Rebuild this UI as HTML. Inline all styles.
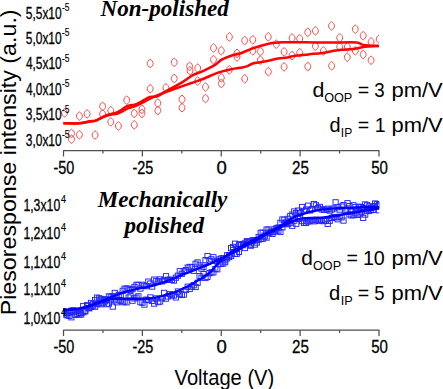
<!DOCTYPE html>
<html><head><meta charset="utf-8"><style>
html,body{margin:0;padding:0;background:#fff;}
body{width:443px;height:389px;overflow:hidden;}
svg{display:block;}
text{font-family:"Liberation Sans",sans-serif;fill:#000;}
.t{font-family:"Liberation Serif",serif;font-weight:bold;font-style:italic;}
</style></head><body>
<svg width="443" height="389" viewBox="0 0 443 389">
<text transform="translate(16.2,0) rotate(-90)" x="-315.36" y="0" font-size="22.5" textLength="305.94" lengthAdjust="spacingAndGlyphs">Piesoresponse intensity (a.u.)</text>
<text x="174.60" y="385.10" font-size="21.4" textLength="99.66" lengthAdjust="spacingAndGlyphs">Voltage (V)</text>
<path d="M63.50,156.5 V150.5 H379.00 V156.5" stroke-linejoin="round" fill="none" stroke="#505050" stroke-width="1.25"/>
<line x1="102.94" y1="150.5" x2="102.94" y2="153.5" stroke="#505050" stroke-width="1.25"/>
<line x1="142.38" y1="150.5" x2="142.38" y2="156.5" stroke="#505050" stroke-width="1.25"/>
<line x1="181.81" y1="150.5" x2="181.81" y2="153.5" stroke="#505050" stroke-width="1.25"/>
<line x1="221.25" y1="150.5" x2="221.25" y2="156.5" stroke="#505050" stroke-width="1.25"/>
<line x1="260.69" y1="150.5" x2="260.69" y2="153.5" stroke="#505050" stroke-width="1.25"/>
<line x1="300.12" y1="150.5" x2="300.12" y2="156.5" stroke="#505050" stroke-width="1.25"/>
<line x1="339.56" y1="150.5" x2="339.56" y2="153.5" stroke="#505050" stroke-width="1.25"/>
<text x="53.55" y="173.50" font-size="18" textLength="20.83" lengthAdjust="spacingAndGlyphs" stroke="#000" stroke-width="0.3">-50</text>
<text x="132.43" y="173.50" font-size="18" textLength="20.83" lengthAdjust="spacingAndGlyphs" stroke="#000" stroke-width="0.3">-25</text>
<text x="216.61" y="173.50" font-size="18" textLength="10.30" lengthAdjust="spacingAndGlyphs" stroke="#000" stroke-width="0.3">0</text>
<text x="292.12" y="173.50" font-size="18" textLength="16.90" lengthAdjust="spacingAndGlyphs" stroke="#000" stroke-width="0.3">25</text>
<text x="371.15" y="173.50" font-size="18" textLength="16.74" lengthAdjust="spacingAndGlyphs" stroke="#000" stroke-width="0.3">50</text>
<path d="M63.50,336.0 V330.0 H379.00 V336.0" stroke-linejoin="round" fill="none" stroke="#505050" stroke-width="1.25"/>
<line x1="102.94" y1="330.0" x2="102.94" y2="333.0" stroke="#505050" stroke-width="1.25"/>
<line x1="142.38" y1="330.0" x2="142.38" y2="336.0" stroke="#505050" stroke-width="1.25"/>
<line x1="181.81" y1="330.0" x2="181.81" y2="333.0" stroke="#505050" stroke-width="1.25"/>
<line x1="221.25" y1="330.0" x2="221.25" y2="336.0" stroke="#505050" stroke-width="1.25"/>
<line x1="260.69" y1="330.0" x2="260.69" y2="333.0" stroke="#505050" stroke-width="1.25"/>
<line x1="300.12" y1="330.0" x2="300.12" y2="336.0" stroke="#505050" stroke-width="1.25"/>
<line x1="339.56" y1="330.0" x2="339.56" y2="333.0" stroke="#505050" stroke-width="1.25"/>
<text x="53.55" y="353.00" font-size="18" textLength="20.83" lengthAdjust="spacingAndGlyphs" stroke="#000" stroke-width="0.3">-50</text>
<text x="132.43" y="353.00" font-size="18" textLength="20.83" lengthAdjust="spacingAndGlyphs" stroke="#000" stroke-width="0.3">-25</text>
<text x="216.61" y="353.00" font-size="18" textLength="10.30" lengthAdjust="spacingAndGlyphs" stroke="#000" stroke-width="0.3">0</text>
<text x="292.12" y="353.00" font-size="18" textLength="16.90" lengthAdjust="spacingAndGlyphs" stroke="#000" stroke-width="0.3">25</text>
<text x="371.15" y="353.00" font-size="18" textLength="16.74" lengthAdjust="spacingAndGlyphs" stroke="#000" stroke-width="0.3">50</text>
<text class="t" x="100.5" y="16.3" font-size="23.1">Non-polished</text>
<text class="t" x="97.8" y="206.6" font-size="23.1">Mechanically</text>
<text class="t" x="124.5" y="233.2" font-size="23.1">polished</text>
<text x="312.55" y="96.90" font-size="20.6" textLength="11.87" lengthAdjust="spacingAndGlyphs">d</text>
<text x="324.13" y="101.70" font-size="13.3" textLength="28.14" lengthAdjust="spacingAndGlyphs">OOP</text>
<text x="357.82" y="96.90" font-size="20.6" textLength="11.44" lengthAdjust="spacingAndGlyphs">=</text>
<text x="374.35" y="96.90" font-size="20.6" textLength="10.41" lengthAdjust="spacingAndGlyphs">3</text>
<text x="391.47" y="96.90" font-size="20.6" textLength="51.23" lengthAdjust="spacingAndGlyphs">pm/V</text>
<text x="329.40" y="132.10" font-size="20.6" textLength="11.12" lengthAdjust="spacingAndGlyphs">d</text>
<text x="340.82" y="136.90" font-size="13.3" textLength="11.39" lengthAdjust="spacingAndGlyphs">IP</text>
<text x="357.82" y="132.10" font-size="20.6" textLength="11.44" lengthAdjust="spacingAndGlyphs">=</text>
<text x="374.73" y="132.10" font-size="20.6" textLength="10.86" lengthAdjust="spacingAndGlyphs">1</text>
<text x="391.47" y="132.10" font-size="20.6" textLength="51.23" lengthAdjust="spacingAndGlyphs">pm/V</text>
<text x="301.26" y="264.90" font-size="20.6" textLength="11.62" lengthAdjust="spacingAndGlyphs">d</text>
<text x="313.03" y="269.70" font-size="13.3" textLength="28.03" lengthAdjust="spacingAndGlyphs">OOP</text>
<text x="346.42" y="264.90" font-size="20.6" textLength="11.44" lengthAdjust="spacingAndGlyphs">=</text>
<text x="362.92" y="264.90" font-size="20.6" textLength="21.91" lengthAdjust="spacingAndGlyphs">10</text>
<text x="391.47" y="264.90" font-size="20.6" textLength="51.23" lengthAdjust="spacingAndGlyphs">pm/V</text>
<text x="329.09" y="299.90" font-size="20.6" textLength="11.25" lengthAdjust="spacingAndGlyphs">d</text>
<text x="340.76" y="304.70" font-size="13.3" textLength="11.97" lengthAdjust="spacingAndGlyphs">IP</text>
<text x="357.82" y="299.90" font-size="20.6" textLength="11.44" lengthAdjust="spacingAndGlyphs">=</text>
<text x="374.36" y="299.90" font-size="20.6" textLength="10.30" lengthAdjust="spacingAndGlyphs">5</text>
<text x="391.47" y="299.90" font-size="20.6" textLength="51.23" lengthAdjust="spacingAndGlyphs">pm/V</text>
<defs><clipPath id="c1"><rect x="55" y="0" width="324.0" height="150"/></clipPath><clipPath id="c2"><rect x="63" y="180" width="316.3" height="150"/></clipPath></defs>
<defs><path id="ci" d="M0,-4.2 C1.6,-3.4 2.95,-1.6 2.95,0 C2.95,1.6 1.6,3.4 0,4.2 C-1.6,3.4 -2.95,1.6 -2.95,0 C-2.95,-1.6 -1.6,-3.4 0,-4.2Z"/></defs>
<g clip-path="url(#c1)" fill="none" stroke="#ff3c3c" stroke-width="0.95">
<use href="#ci" x="64.6" y="112.9"/>
<use href="#ci" x="71.5" y="133.4"/>
<use href="#ci" x="71.5" y="139.2"/>
<use href="#ci" x="79.4" y="116.1"/>
<use href="#ci" x="79.4" y="134.7"/>
<use href="#ci" x="87.1" y="113.9"/>
<use href="#ci" x="95.1" y="135"/>
<use href="#ci" x="102.6" y="106.4"/>
<use href="#ci" x="102.6" y="114.1"/>
<use href="#ci" x="110.8" y="110.7"/>
<use href="#ci" x="110.8" y="121.9"/>
<use href="#ci" x="118.4" y="126"/>
<use href="#ci" x="126.7" y="100.2"/>
<use href="#ci" x="134.3" y="113.4"/>
<use href="#ci" x="134.3" y="124.8"/>
<use href="#ci" x="141.9" y="109.3"/>
<use href="#ci" x="141.9" y="113.4"/>
<use href="#ci" x="150.2" y="63.5"/>
<use href="#ci" x="150.2" y="88.8"/>
<use href="#ci" x="157.8" y="103.1"/>
<use href="#ci" x="157.8" y="110.5"/>
<use href="#ci" x="165.9" y="87.8"/>
<use href="#ci" x="174.2" y="62.3"/>
<use href="#ci" x="174.2" y="78.5"/>
<use href="#ci" x="182" y="99.4"/>
<use href="#ci" x="182" y="107.7"/>
<use href="#ci" x="189.6" y="66.3"/>
<use href="#ci" x="190" y="70.8"/>
<use href="#ci" x="197.7" y="68.1"/>
<use href="#ci" x="197.7" y="81.1"/>
<use href="#ci" x="205.5" y="87"/>
<use href="#ci" x="205.5" y="98.5"/>
<use href="#ci" x="213.5" y="48"/>
<use href="#ci" x="213.5" y="59.7"/>
<use href="#ci" x="221.3" y="50.7"/>
<use href="#ci" x="221.3" y="77.8"/>
<use href="#ci" x="221.3" y="83.5"/>
<use href="#ci" x="229.4" y="36.9"/>
<use href="#ci" x="229.3" y="69.8"/>
<use href="#ci" x="237" y="53.4"/>
<use href="#ci" x="237" y="57"/>
<use href="#ci" x="244.7" y="40.5"/>
<use href="#ci" x="244.7" y="78.8"/>
<use href="#ci" x="252.8" y="39.8"/>
<use href="#ci" x="252.8" y="50.8"/>
<use href="#ci" x="260.4" y="51.5"/>
<use href="#ci" x="260.4" y="60.2"/>
<use href="#ci" x="268.3" y="36.8"/>
<use href="#ci" x="268.4" y="71.7"/>
<use href="#ci" x="276.3" y="44.1"/>
<use href="#ci" x="284.1" y="51.9"/>
<use href="#ci" x="284.1" y="66.9"/>
<use href="#ci" x="292.1" y="38"/>
<use href="#ci" x="292.1" y="55.6"/>
<use href="#ci" x="299.7" y="38.8"/>
<use href="#ci" x="299.7" y="52.8"/>
<use href="#ci" x="307.8" y="32.3"/>
<use href="#ci" x="307.8" y="66.6"/>
<use href="#ci" x="315.4" y="30.8"/>
<use href="#ci" x="315.4" y="46.2"/>
<use href="#ci" x="323.4" y="51"/>
<use href="#ci" x="331.5" y="25.9"/>
<use href="#ci" x="331.6" y="65.8"/>
<use href="#ci" x="339.7" y="37.8"/>
<use href="#ci" x="339.7" y="46.8"/>
<use href="#ci" x="347.3" y="47"/>
<use href="#ci" x="347.3" y="57.2"/>
<use href="#ci" x="355.3" y="29.2"/>
<use href="#ci" x="355.3" y="50.8"/>
<use href="#ci" x="363.2" y="35.7"/>
<use href="#ci" x="363.2" y="54.5"/>
<use href="#ci" x="371.1" y="41.9"/>
<use href="#ci" x="371.1" y="60.2"/>
<use href="#ci" x="379.2" y="39.1"/>
</g>
<path d="M63.4,123.2 C66.1,123.2 75.0,123.6 79.4,123.3 C83.8,123.0 87.3,121.8 90.0,121.3 C92.7,120.8 93.2,121.4 95.4,120.6 C97.7,119.8 101.1,117.7 103.5,116.6 C105.9,115.5 107.8,114.9 110.0,114.2 C112.2,113.5 115.0,113.1 117.0,112.3 C119.0,111.5 120.4,110.5 122.0,109.5 C123.6,108.5 125.2,107.0 126.6,106.3 C128.0,105.6 129.2,105.6 130.6,105.3 C131.9,105.0 133.1,105.2 134.7,104.7 C136.3,104.2 137.4,103.7 140.0,102.4 C142.6,101.1 147.1,98.0 150.0,97.0 C152.9,96.0 154.2,97.4 157.2,96.3 C160.2,95.2 163.8,92.6 168.0,90.2 C172.2,87.8 178.3,84.6 182.5,82.1 C186.7,79.5 190.0,76.7 193.3,74.9 C196.6,73.1 198.8,73.0 202.4,71.3 C206.0,69.6 211.8,66.8 215.0,64.9 C218.2,63.0 218.8,61.3 221.7,59.7 C224.6,58.1 229.4,56.2 232.5,55.2 C235.6,54.2 236.5,54.7 240.0,53.5 C243.5,52.3 248.5,49.8 253.5,48.1 C258.5,46.4 264.6,44.4 269.8,43.4 C275.0,42.4 279.7,42.4 284.7,42.2 C289.7,42.0 294.9,42.3 300.0,42.3 C305.1,42.3 309.5,42.4 315.3,42.4 C321.1,42.4 328.1,42.5 335.0,42.5 C341.9,42.5 351.9,42.1 356.4,42.5 C360.9,42.9 360.0,44.1 362.1,44.6 C364.2,45.1 366.1,45.3 368.9,45.5 C371.7,45.7 377.1,45.8 378.8,45.9" fill="none" stroke="#ff0000" stroke-width="2.5" stroke-linejoin="round" stroke-linecap="butt"/>
<path d="M63.4,123.2 C66.1,123.2 75.0,123.6 79.4,123.3 C83.8,123.0 87.3,121.8 90.0,121.4 C92.7,121.0 93.2,121.7 95.4,120.9 C97.7,120.2 101.1,117.9 103.5,116.9 C105.9,115.9 107.8,115.4 110.0,114.9 C112.2,114.4 115.0,114.3 117.0,113.8 C119.0,113.2 120.4,112.4 122.0,111.6 C123.6,110.8 125.2,109.7 126.6,109.0 C128.0,108.3 129.2,108.0 130.6,107.5 C131.9,107.0 133.1,106.9 134.7,106.3 C136.3,105.7 137.4,105.3 140.0,104.0 C142.6,102.7 146.5,100.3 150.0,98.6 C153.5,96.9 156.9,95.3 160.8,93.8 C164.7,92.2 168.4,91.1 173.5,89.3 C178.6,87.5 186.4,84.8 191.5,83.0 C196.6,81.2 200.0,80.2 204.2,78.5 C208.4,76.8 212.5,74.6 216.8,73.1 C221.1,71.6 226.1,70.4 230.0,69.5 C233.9,68.6 237.2,68.3 240.0,67.8 C242.8,67.3 244.6,67.2 246.8,66.4 C249.1,65.7 250.1,64.2 253.5,63.3 C256.9,62.4 263.0,61.8 267.1,61.0 C271.2,60.2 274.5,59.2 277.9,58.6 C281.3,58.0 284.5,57.9 287.4,57.4 C290.2,56.9 291.5,56.3 295.0,55.8 C298.5,55.3 304.0,54.9 308.5,54.4 C313.0,53.9 317.6,53.6 322.1,53.0 C326.6,52.4 332.3,51.1 335.6,50.6 C338.9,50.1 338.5,50.1 341.8,49.8 C345.1,49.5 351.9,49.1 355.3,48.7 C358.7,48.3 359.8,47.6 362.1,47.2 C364.4,46.8 366.1,46.7 368.9,46.5 C371.7,46.3 377.1,46.0 378.8,45.9" fill="none" stroke="#ff0000" stroke-width="2.5" stroke-linejoin="round" stroke-linecap="butt"/>
<g clip-path="url(#c2)" fill="none" stroke="#2525ff" stroke-width="0.95">
<rect x="60.9" y="310.6" width="5.2" height="5.2"/>
<rect x="62.9" y="312.0" width="5.2" height="5.2"/>
<rect x="64.8" y="310.6" width="5.2" height="5.2"/>
<rect x="66.8" y="309.9" width="5.2" height="5.2"/>
<rect x="68.8" y="308.1" width="5.2" height="5.2"/>
<rect x="70.8" y="309.1" width="5.2" height="5.2"/>
<rect x="72.7" y="312.3" width="5.2" height="5.2"/>
<rect x="74.7" y="311.3" width="5.2" height="5.2"/>
<rect x="76.7" y="312.1" width="5.2" height="5.2"/>
<rect x="78.6" y="310.3" width="5.2" height="5.2"/>
<rect x="80.6" y="309.7" width="5.2" height="5.2"/>
<rect x="82.6" y="308.3" width="5.2" height="5.2"/>
<rect x="84.6" y="302.4" width="5.2" height="5.2"/>
<rect x="86.5" y="305.4" width="5.2" height="5.2"/>
<rect x="88.5" y="304.4" width="5.2" height="5.2"/>
<rect x="90.5" y="303.1" width="5.2" height="5.2"/>
<rect x="92.5" y="297.4" width="5.2" height="5.2"/>
<rect x="94.4" y="295.0" width="5.2" height="5.2"/>
<rect x="96.4" y="295.7" width="5.2" height="5.2"/>
<rect x="98.4" y="296.3" width="5.2" height="5.2"/>
<rect x="100.3" y="297.7" width="5.2" height="5.2"/>
<rect x="102.3" y="296.7" width="5.2" height="5.2"/>
<rect x="104.3" y="297.0" width="5.2" height="5.2"/>
<rect x="106.3" y="293.8" width="5.2" height="5.2"/>
<rect x="108.2" y="294.2" width="5.2" height="5.2"/>
<rect x="110.2" y="293.7" width="5.2" height="5.2"/>
<rect x="112.2" y="290.3" width="5.2" height="5.2"/>
<rect x="114.1" y="294.2" width="5.2" height="5.2"/>
<rect x="116.1" y="292.2" width="5.2" height="5.2"/>
<rect x="118.1" y="292.7" width="5.2" height="5.2"/>
<rect x="120.1" y="288.2" width="5.2" height="5.2"/>
<rect x="122.0" y="286.1" width="5.2" height="5.2"/>
<rect x="124.0" y="286.0" width="5.2" height="5.2"/>
<rect x="126.0" y="286.1" width="5.2" height="5.2"/>
<rect x="127.9" y="287.5" width="5.2" height="5.2"/>
<rect x="129.9" y="286.6" width="5.2" height="5.2"/>
<rect x="131.9" y="284.3" width="5.2" height="5.2"/>
<rect x="133.9" y="282.2" width="5.2" height="5.2"/>
<rect x="135.8" y="282.3" width="5.2" height="5.2"/>
<rect x="137.8" y="286.0" width="5.2" height="5.2"/>
<rect x="139.8" y="282.2" width="5.2" height="5.2"/>
<rect x="141.8" y="283.2" width="5.2" height="5.2"/>
<rect x="143.7" y="283.6" width="5.2" height="5.2"/>
<rect x="145.7" y="279.0" width="5.2" height="5.2"/>
<rect x="147.7" y="280.9" width="5.2" height="5.2"/>
<rect x="149.6" y="284.0" width="5.2" height="5.2"/>
<rect x="151.6" y="277.0" width="5.2" height="5.2"/>
<rect x="153.6" y="278.3" width="5.2" height="5.2"/>
<rect x="155.6" y="278.8" width="5.2" height="5.2"/>
<rect x="157.5" y="276.8" width="5.2" height="5.2"/>
<rect x="159.5" y="278.8" width="5.2" height="5.2"/>
<rect x="161.5" y="277.7" width="5.2" height="5.2"/>
<rect x="163.4" y="273.6" width="5.2" height="5.2"/>
<rect x="165.4" y="277.1" width="5.2" height="5.2"/>
<rect x="167.4" y="277.2" width="5.2" height="5.2"/>
<rect x="169.4" y="277.3" width="5.2" height="5.2"/>
<rect x="171.3" y="278.0" width="5.2" height="5.2"/>
<rect x="173.3" y="275.1" width="5.2" height="5.2"/>
<rect x="175.3" y="273.1" width="5.2" height="5.2"/>
<rect x="177.2" y="268.6" width="5.2" height="5.2"/>
<rect x="179.2" y="271.2" width="5.2" height="5.2"/>
<rect x="181.2" y="268.6" width="5.2" height="5.2"/>
<rect x="183.2" y="267.6" width="5.2" height="5.2"/>
<rect x="185.1" y="265.0" width="5.2" height="5.2"/>
<rect x="187.1" y="264.3" width="5.2" height="5.2"/>
<rect x="189.1" y="264.5" width="5.2" height="5.2"/>
<rect x="191.1" y="268.2" width="5.2" height="5.2"/>
<rect x="193.0" y="261.2" width="5.2" height="5.2"/>
<rect x="195.0" y="259.8" width="5.2" height="5.2"/>
<rect x="197.0" y="262.8" width="5.2" height="5.2"/>
<rect x="198.9" y="265.9" width="5.2" height="5.2"/>
<rect x="200.9" y="264.2" width="5.2" height="5.2"/>
<rect x="202.9" y="257.5" width="5.2" height="5.2"/>
<rect x="204.9" y="253.5" width="5.2" height="5.2"/>
<rect x="206.8" y="258.4" width="5.2" height="5.2"/>
<rect x="208.8" y="256.7" width="5.2" height="5.2"/>
<rect x="210.8" y="254.6" width="5.2" height="5.2"/>
<rect x="212.7" y="258.2" width="5.2" height="5.2"/>
<rect x="214.7" y="258.9" width="5.2" height="5.2"/>
<rect x="216.7" y="256.8" width="5.2" height="5.2"/>
<rect x="218.7" y="255.9" width="5.2" height="5.2"/>
<rect x="220.6" y="255.6" width="5.2" height="5.2"/>
<rect x="222.6" y="257.7" width="5.2" height="5.2"/>
<rect x="224.6" y="255.7" width="5.2" height="5.2"/>
<rect x="226.5" y="254.4" width="5.2" height="5.2"/>
<rect x="228.5" y="253.4" width="5.2" height="5.2"/>
<rect x="230.5" y="247.4" width="5.2" height="5.2"/>
<rect x="232.5" y="251.4" width="5.2" height="5.2"/>
<rect x="234.4" y="251.1" width="5.2" height="5.2"/>
<rect x="236.4" y="249.3" width="5.2" height="5.2"/>
<rect x="238.4" y="242.3" width="5.2" height="5.2"/>
<rect x="240.4" y="242.6" width="5.2" height="5.2"/>
<rect x="242.3" y="245.4" width="5.2" height="5.2"/>
<rect x="244.3" y="239.4" width="5.2" height="5.2"/>
<rect x="246.3" y="240.7" width="5.2" height="5.2"/>
<rect x="248.2" y="243.1" width="5.2" height="5.2"/>
<rect x="250.2" y="237.6" width="5.2" height="5.2"/>
<rect x="252.2" y="242.0" width="5.2" height="5.2"/>
<rect x="254.2" y="240.0" width="5.2" height="5.2"/>
<rect x="256.1" y="237.0" width="5.2" height="5.2"/>
<rect x="258.1" y="236.4" width="5.2" height="5.2"/>
<rect x="260.1" y="236.2" width="5.2" height="5.2"/>
<rect x="262.0" y="234.1" width="5.2" height="5.2"/>
<rect x="264.0" y="235.0" width="5.2" height="5.2"/>
<rect x="266.0" y="230.4" width="5.2" height="5.2"/>
<rect x="268.0" y="229.0" width="5.2" height="5.2"/>
<rect x="269.9" y="231.3" width="5.2" height="5.2"/>
<rect x="271.9" y="229.0" width="5.2" height="5.2"/>
<rect x="273.9" y="225.6" width="5.2" height="5.2"/>
<rect x="275.8" y="228.1" width="5.2" height="5.2"/>
<rect x="277.8" y="229.4" width="5.2" height="5.2"/>
<rect x="279.8" y="224.8" width="5.2" height="5.2"/>
<rect x="281.8" y="220.6" width="5.2" height="5.2"/>
<rect x="283.7" y="221.6" width="5.2" height="5.2"/>
<rect x="285.7" y="221.2" width="5.2" height="5.2"/>
<rect x="287.7" y="220.1" width="5.2" height="5.2"/>
<rect x="289.7" y="223.2" width="5.2" height="5.2"/>
<rect x="291.6" y="218.0" width="5.2" height="5.2"/>
<rect x="293.6" y="221.2" width="5.2" height="5.2"/>
<rect x="295.6" y="216.3" width="5.2" height="5.2"/>
<rect x="297.5" y="215.7" width="5.2" height="5.2"/>
<rect x="299.5" y="218.5" width="5.2" height="5.2"/>
<rect x="301.5" y="220.4" width="5.2" height="5.2"/>
<rect x="303.5" y="220.3" width="5.2" height="5.2"/>
<rect x="305.4" y="219.0" width="5.2" height="5.2"/>
<rect x="307.4" y="218.1" width="5.2" height="5.2"/>
<rect x="309.4" y="217.8" width="5.2" height="5.2"/>
<rect x="311.3" y="218.7" width="5.2" height="5.2"/>
<rect x="313.3" y="217.1" width="5.2" height="5.2"/>
<rect x="315.3" y="217.6" width="5.2" height="5.2"/>
<rect x="317.3" y="218.4" width="5.2" height="5.2"/>
<rect x="319.2" y="217.3" width="5.2" height="5.2"/>
<rect x="321.2" y="218.5" width="5.2" height="5.2"/>
<rect x="323.2" y="218.2" width="5.2" height="5.2"/>
<rect x="325.1" y="221.3" width="5.2" height="5.2"/>
<rect x="327.1" y="218.2" width="5.2" height="5.2"/>
<rect x="329.1" y="215.3" width="5.2" height="5.2"/>
<rect x="331.1" y="214.4" width="5.2" height="5.2"/>
<rect x="333.0" y="214.8" width="5.2" height="5.2"/>
<rect x="335.0" y="216.7" width="5.2" height="5.2"/>
<rect x="337.0" y="214.1" width="5.2" height="5.2"/>
<rect x="339.0" y="214.7" width="5.2" height="5.2"/>
<rect x="340.9" y="218.0" width="5.2" height="5.2"/>
<rect x="342.9" y="208.5" width="5.2" height="5.2"/>
<rect x="344.9" y="208.8" width="5.2" height="5.2"/>
<rect x="346.8" y="211.8" width="5.2" height="5.2"/>
<rect x="348.8" y="212.8" width="5.2" height="5.2"/>
<rect x="350.8" y="212.5" width="5.2" height="5.2"/>
<rect x="352.8" y="210.7" width="5.2" height="5.2"/>
<rect x="354.7" y="212.4" width="5.2" height="5.2"/>
<rect x="356.7" y="211.8" width="5.2" height="5.2"/>
<rect x="358.7" y="209.5" width="5.2" height="5.2"/>
<rect x="360.6" y="215.3" width="5.2" height="5.2"/>
<rect x="362.6" y="212.0" width="5.2" height="5.2"/>
<rect x="364.6" y="208.5" width="5.2" height="5.2"/>
<rect x="366.6" y="208.2" width="5.2" height="5.2"/>
<rect x="368.5" y="207.5" width="5.2" height="5.2"/>
<rect x="370.5" y="207.4" width="5.2" height="5.2"/>
<rect x="372.5" y="200.9" width="5.2" height="5.2"/>
<rect x="374.4" y="203.8" width="5.2" height="5.2"/>
<rect x="376.4" y="207.7" width="5.2" height="5.2"/>
<rect x="60.9" y="308.5" width="5.2" height="5.2"/>
<rect x="62.9" y="310.1" width="5.2" height="5.2"/>
<rect x="64.8" y="312.8" width="5.2" height="5.2"/>
<rect x="66.8" y="313.2" width="5.2" height="5.2"/>
<rect x="68.8" y="314.7" width="5.2" height="5.2"/>
<rect x="70.8" y="307.7" width="5.2" height="5.2"/>
<rect x="72.7" y="308.5" width="5.2" height="5.2"/>
<rect x="74.7" y="308.5" width="5.2" height="5.2"/>
<rect x="76.7" y="310.5" width="5.2" height="5.2"/>
<rect x="78.6" y="311.9" width="5.2" height="5.2"/>
<rect x="80.6" y="303.4" width="5.2" height="5.2"/>
<rect x="82.6" y="308.8" width="5.2" height="5.2"/>
<rect x="84.6" y="303.4" width="5.2" height="5.2"/>
<rect x="86.5" y="305.7" width="5.2" height="5.2"/>
<rect x="88.5" y="300.4" width="5.2" height="5.2"/>
<rect x="90.5" y="301.6" width="5.2" height="5.2"/>
<rect x="92.5" y="304.1" width="5.2" height="5.2"/>
<rect x="94.4" y="301.4" width="5.2" height="5.2"/>
<rect x="96.4" y="300.9" width="5.2" height="5.2"/>
<rect x="98.4" y="301.7" width="5.2" height="5.2"/>
<rect x="100.3" y="300.1" width="5.2" height="5.2"/>
<rect x="102.3" y="298.7" width="5.2" height="5.2"/>
<rect x="104.3" y="301.6" width="5.2" height="5.2"/>
<rect x="106.3" y="301.1" width="5.2" height="5.2"/>
<rect x="108.2" y="297.7" width="5.2" height="5.2"/>
<rect x="110.2" y="304.0" width="5.2" height="5.2"/>
<rect x="112.2" y="297.0" width="5.2" height="5.2"/>
<rect x="114.1" y="299.7" width="5.2" height="5.2"/>
<rect x="116.1" y="297.8" width="5.2" height="5.2"/>
<rect x="118.1" y="298.1" width="5.2" height="5.2"/>
<rect x="120.1" y="299.6" width="5.2" height="5.2"/>
<rect x="122.0" y="298.9" width="5.2" height="5.2"/>
<rect x="124.0" y="299.7" width="5.2" height="5.2"/>
<rect x="126.0" y="294.9" width="5.2" height="5.2"/>
<rect x="127.9" y="293.6" width="5.2" height="5.2"/>
<rect x="129.9" y="298.1" width="5.2" height="5.2"/>
<rect x="131.9" y="295.8" width="5.2" height="5.2"/>
<rect x="133.9" y="295.0" width="5.2" height="5.2"/>
<rect x="135.8" y="293.7" width="5.2" height="5.2"/>
<rect x="137.8" y="299.6" width="5.2" height="5.2"/>
<rect x="139.8" y="300.1" width="5.2" height="5.2"/>
<rect x="141.8" y="302.0" width="5.2" height="5.2"/>
<rect x="143.7" y="297.0" width="5.2" height="5.2"/>
<rect x="145.7" y="297.5" width="5.2" height="5.2"/>
<rect x="147.7" y="294.8" width="5.2" height="5.2"/>
<rect x="149.6" y="298.3" width="5.2" height="5.2"/>
<rect x="151.6" y="301.0" width="5.2" height="5.2"/>
<rect x="153.6" y="295.8" width="5.2" height="5.2"/>
<rect x="155.6" y="299.5" width="5.2" height="5.2"/>
<rect x="157.5" y="298.9" width="5.2" height="5.2"/>
<rect x="159.5" y="295.7" width="5.2" height="5.2"/>
<rect x="161.5" y="290.3" width="5.2" height="5.2"/>
<rect x="163.4" y="296.0" width="5.2" height="5.2"/>
<rect x="165.4" y="293.9" width="5.2" height="5.2"/>
<rect x="167.4" y="291.6" width="5.2" height="5.2"/>
<rect x="169.4" y="292.8" width="5.2" height="5.2"/>
<rect x="171.3" y="292.8" width="5.2" height="5.2"/>
<rect x="173.3" y="294.8" width="5.2" height="5.2"/>
<rect x="175.3" y="288.9" width="5.2" height="5.2"/>
<rect x="177.2" y="291.5" width="5.2" height="5.2"/>
<rect x="179.2" y="292.4" width="5.2" height="5.2"/>
<rect x="181.2" y="292.0" width="5.2" height="5.2"/>
<rect x="183.2" y="287.4" width="5.2" height="5.2"/>
<rect x="185.1" y="284.1" width="5.2" height="5.2"/>
<rect x="187.1" y="286.4" width="5.2" height="5.2"/>
<rect x="189.1" y="284.1" width="5.2" height="5.2"/>
<rect x="191.1" y="282.6" width="5.2" height="5.2"/>
<rect x="193.0" y="284.4" width="5.2" height="5.2"/>
<rect x="195.0" y="280.2" width="5.2" height="5.2"/>
<rect x="197.0" y="273.5" width="5.2" height="5.2"/>
<rect x="198.9" y="275.1" width="5.2" height="5.2"/>
<rect x="200.9" y="271.5" width="5.2" height="5.2"/>
<rect x="202.9" y="275.4" width="5.2" height="5.2"/>
<rect x="204.9" y="274.2" width="5.2" height="5.2"/>
<rect x="206.8" y="270.6" width="5.2" height="5.2"/>
<rect x="208.8" y="269.8" width="5.2" height="5.2"/>
<rect x="210.8" y="269.8" width="5.2" height="5.2"/>
<rect x="212.7" y="266.4" width="5.2" height="5.2"/>
<rect x="214.7" y="266.7" width="5.2" height="5.2"/>
<rect x="216.7" y="261.4" width="5.2" height="5.2"/>
<rect x="218.7" y="261.3" width="5.2" height="5.2"/>
<rect x="220.6" y="260.9" width="5.2" height="5.2"/>
<rect x="222.6" y="259.6" width="5.2" height="5.2"/>
<rect x="224.6" y="252.6" width="5.2" height="5.2"/>
<rect x="226.5" y="252.7" width="5.2" height="5.2"/>
<rect x="228.5" y="245.5" width="5.2" height="5.2"/>
<rect x="230.5" y="244.3" width="5.2" height="5.2"/>
<rect x="232.5" y="241.1" width="5.2" height="5.2"/>
<rect x="234.4" y="246.3" width="5.2" height="5.2"/>
<rect x="236.4" y="241.7" width="5.2" height="5.2"/>
<rect x="238.4" y="242.4" width="5.2" height="5.2"/>
<rect x="240.4" y="241.4" width="5.2" height="5.2"/>
<rect x="242.3" y="240.8" width="5.2" height="5.2"/>
<rect x="244.3" y="238.6" width="5.2" height="5.2"/>
<rect x="246.3" y="239.1" width="5.2" height="5.2"/>
<rect x="248.2" y="242.1" width="5.2" height="5.2"/>
<rect x="250.2" y="238.3" width="5.2" height="5.2"/>
<rect x="252.2" y="237.5" width="5.2" height="5.2"/>
<rect x="254.2" y="237.7" width="5.2" height="5.2"/>
<rect x="256.1" y="234.4" width="5.2" height="5.2"/>
<rect x="258.1" y="230.3" width="5.2" height="5.2"/>
<rect x="260.1" y="230.0" width="5.2" height="5.2"/>
<rect x="262.0" y="233.0" width="5.2" height="5.2"/>
<rect x="264.0" y="227.0" width="5.2" height="5.2"/>
<rect x="266.0" y="226.9" width="5.2" height="5.2"/>
<rect x="268.0" y="229.8" width="5.2" height="5.2"/>
<rect x="269.9" y="229.4" width="5.2" height="5.2"/>
<rect x="271.9" y="226.7" width="5.2" height="5.2"/>
<rect x="273.9" y="227.0" width="5.2" height="5.2"/>
<rect x="275.8" y="224.9" width="5.2" height="5.2"/>
<rect x="277.8" y="220.2" width="5.2" height="5.2"/>
<rect x="279.8" y="216.9" width="5.2" height="5.2"/>
<rect x="281.8" y="217.1" width="5.2" height="5.2"/>
<rect x="283.7" y="219.8" width="5.2" height="5.2"/>
<rect x="285.7" y="216.2" width="5.2" height="5.2"/>
<rect x="287.7" y="213.4" width="5.2" height="5.2"/>
<rect x="289.7" y="212.0" width="5.2" height="5.2"/>
<rect x="291.6" y="208.9" width="5.2" height="5.2"/>
<rect x="293.6" y="210.4" width="5.2" height="5.2"/>
<rect x="295.6" y="208.0" width="5.2" height="5.2"/>
<rect x="297.5" y="210.4" width="5.2" height="5.2"/>
<rect x="299.5" y="204.4" width="5.2" height="5.2"/>
<rect x="301.5" y="208.4" width="5.2" height="5.2"/>
<rect x="303.5" y="206.9" width="5.2" height="5.2"/>
<rect x="305.4" y="203.1" width="5.2" height="5.2"/>
<rect x="307.4" y="207.8" width="5.2" height="5.2"/>
<rect x="309.4" y="206.6" width="5.2" height="5.2"/>
<rect x="311.3" y="201.4" width="5.2" height="5.2"/>
<rect x="313.3" y="202.7" width="5.2" height="5.2"/>
<rect x="315.3" y="205.4" width="5.2" height="5.2"/>
<rect x="317.3" y="204.3" width="5.2" height="5.2"/>
<rect x="319.2" y="206.8" width="5.2" height="5.2"/>
<rect x="321.2" y="207.3" width="5.2" height="5.2"/>
<rect x="323.2" y="207.1" width="5.2" height="5.2"/>
<rect x="325.1" y="206.1" width="5.2" height="5.2"/>
<rect x="327.1" y="208.0" width="5.2" height="5.2"/>
<rect x="329.1" y="206.9" width="5.2" height="5.2"/>
<rect x="331.1" y="205.9" width="5.2" height="5.2"/>
<rect x="333.0" y="199.7" width="5.2" height="5.2"/>
<rect x="335.0" y="204.6" width="5.2" height="5.2"/>
<rect x="337.0" y="207.0" width="5.2" height="5.2"/>
<rect x="339.0" y="203.9" width="5.2" height="5.2"/>
<rect x="340.9" y="202.5" width="5.2" height="5.2"/>
<rect x="342.9" y="207.6" width="5.2" height="5.2"/>
<rect x="344.9" y="200.6" width="5.2" height="5.2"/>
<rect x="346.8" y="203.5" width="5.2" height="5.2"/>
<rect x="348.8" y="208.9" width="5.2" height="5.2"/>
<rect x="350.8" y="202.7" width="5.2" height="5.2"/>
<rect x="352.8" y="204.5" width="5.2" height="5.2"/>
<rect x="354.7" y="207.8" width="5.2" height="5.2"/>
<rect x="356.7" y="204.1" width="5.2" height="5.2"/>
<rect x="358.7" y="204.5" width="5.2" height="5.2"/>
<rect x="360.6" y="205.5" width="5.2" height="5.2"/>
<rect x="362.6" y="201.8" width="5.2" height="5.2"/>
<rect x="364.6" y="202.6" width="5.2" height="5.2"/>
<rect x="366.6" y="203.8" width="5.2" height="5.2"/>
<rect x="368.5" y="205.5" width="5.2" height="5.2"/>
<rect x="370.5" y="204.2" width="5.2" height="5.2"/>
<rect x="372.5" y="203.5" width="5.2" height="5.2"/>
<rect x="374.4" y="201.5" width="5.2" height="5.2"/>
<rect x="376.4" y="202.5" width="5.2" height="5.2"/>
</g>
<path d="M63.5,310.3 C65.4,310.1 71.4,309.8 75.0,309.3 C78.6,308.8 81.7,308.1 85.0,307.2 C88.3,306.2 91.7,304.8 95.0,303.6 C98.3,302.4 101.7,301.2 105.0,299.8 C108.3,298.4 111.7,296.8 115.0,295.5 C118.3,294.2 121.7,293.2 125.0,292.2 C128.3,291.2 131.7,290.1 135.0,289.3 C138.3,288.5 141.7,288.0 145.0,287.3 C148.3,286.6 151.7,285.9 155.0,285.0 C158.3,284.1 161.7,283.0 165.0,281.8 C168.3,280.6 172.5,278.8 175.0,277.8 C177.5,276.8 177.5,276.7 180.0,275.7 C182.5,274.7 186.7,273.1 190.0,271.8 C193.3,270.5 196.7,269.1 200.0,267.8 C203.3,266.5 207.2,265.0 210.0,263.8 C212.8,262.6 213.7,262.1 217.0,260.5 C220.3,258.9 226.2,256.2 230.0,254.2 C233.8,252.2 236.7,250.4 240.0,248.6 C243.3,246.8 247.3,244.9 250.0,243.5 C252.7,242.1 253.0,241.9 256.0,240.2 C259.0,238.5 264.2,235.5 268.0,233.5 C271.8,231.5 275.3,230.0 279.0,228.2 C282.7,226.4 287.2,223.9 290.0,222.5 C292.8,221.1 293.8,220.5 296.0,219.8 C298.2,219.1 300.2,218.7 303.0,218.4 C305.8,218.1 309.8,218.1 313.0,218.0 C316.2,217.9 318.3,217.9 322.0,217.6 C325.7,217.3 331.0,216.6 335.0,216.0 C339.0,215.4 341.2,214.7 346.0,213.8 C350.8,212.9 358.5,211.7 364.0,210.8 C369.5,209.9 376.5,208.8 379.0,208.4" fill="none" stroke="#0000ff" stroke-width="2.4" stroke-linejoin="round" stroke-linecap="butt"/>
<path d="M63.5,310.3 C65.4,310.1 71.4,309.8 75.0,309.3 C78.6,308.8 80.8,308.6 85.0,307.4 C89.2,306.2 95.8,303.7 100.0,302.3 C104.2,300.9 107.0,299.8 110.0,299.2 C113.0,298.6 113.8,298.7 118.0,298.6 C122.2,298.5 130.2,298.8 135.0,298.8 C139.8,298.8 143.7,298.9 147.0,298.7 C150.3,298.5 152.0,298.4 155.0,297.8 C158.0,297.2 161.7,296.1 165.0,295.2 C168.3,294.3 172.5,293.1 175.0,292.2 C177.5,291.3 177.7,291.1 180.0,290.0 C182.3,288.9 186.0,287.3 189.0,285.7 C192.0,284.1 195.5,281.8 198.0,280.3 C200.5,278.9 201.7,278.6 204.0,277.0 C206.3,275.4 209.0,273.3 211.6,270.8 C214.2,268.3 216.2,265.0 219.3,262.0 C222.4,259.0 226.6,255.5 230.0,253.0 C233.4,250.5 236.7,248.9 240.0,247.0 C243.3,245.1 247.3,243.2 250.0,241.8 C252.7,240.4 253.0,240.1 256.0,238.6 C259.0,237.1 264.2,234.6 268.0,232.6 C271.8,230.6 275.3,228.9 279.0,226.8 C282.7,224.7 287.2,221.6 290.0,219.8 C292.8,218.0 293.1,217.4 296.0,216.2 C298.9,215.0 303.8,213.6 307.6,212.6 C311.4,211.6 314.4,210.7 319.0,210.0 C323.6,209.3 330.5,208.8 335.0,208.4 C339.5,208.0 341.2,208.0 346.0,207.8 C350.8,207.6 358.5,207.3 364.0,207.2 C369.5,207.1 376.5,207.2 379.0,207.2" fill="none" stroke="#0000ff" stroke-width="2.4" stroke-linejoin="round" stroke-linecap="butt"/>
<text x="25.72" y="18.60" font-size="16.6" textLength="35.99" lengthAdjust="spacingAndGlyphs" stroke="#000" stroke-width="0.3">5,5x10</text>
<text x="61.92" y="11.00" font-size="10.8" textLength="7.51" lengthAdjust="spacingAndGlyphs" stroke="#000" stroke-width="0.15">-5</text>
<text x="25.72" y="44.00" font-size="16.6" textLength="35.99" lengthAdjust="spacingAndGlyphs" stroke="#000" stroke-width="0.3">5,0x10</text>
<text x="61.92" y="36.40" font-size="10.8" textLength="7.51" lengthAdjust="spacingAndGlyphs" stroke="#000" stroke-width="0.15">-5</text>
<text x="25.90" y="69.40" font-size="16.6" textLength="35.80" lengthAdjust="spacingAndGlyphs" stroke="#000" stroke-width="0.3">4,5x10</text>
<text x="61.92" y="61.80" font-size="10.8" textLength="7.51" lengthAdjust="spacingAndGlyphs" stroke="#000" stroke-width="0.15">-5</text>
<text x="25.90" y="94.80" font-size="16.6" textLength="35.80" lengthAdjust="spacingAndGlyphs" stroke="#000" stroke-width="0.3">4,0x10</text>
<text x="61.92" y="87.20" font-size="10.8" textLength="7.51" lengthAdjust="spacingAndGlyphs" stroke="#000" stroke-width="0.15">-5</text>
<text x="25.72" y="120.40" font-size="16.6" textLength="35.99" lengthAdjust="spacingAndGlyphs" stroke="#000" stroke-width="0.3">3,5x10</text>
<text x="61.92" y="112.80" font-size="10.8" textLength="7.51" lengthAdjust="spacingAndGlyphs" stroke="#000" stroke-width="0.15">-5</text>
<text x="25.72" y="145.60" font-size="16.6" textLength="35.99" lengthAdjust="spacingAndGlyphs" stroke="#000" stroke-width="0.3">3,0x10</text>
<text x="61.92" y="138.00" font-size="10.8" textLength="7.51" lengthAdjust="spacingAndGlyphs" stroke="#000" stroke-width="0.15">-5</text>
<text x="23.38" y="211.20" font-size="16.2" textLength="36.84" lengthAdjust="spacingAndGlyphs" stroke="#000" stroke-width="0.3">1,3x10</text>
<text x="60.98" y="203.20" font-size="10.4" textLength="5.01" lengthAdjust="spacingAndGlyphs" stroke="#000" stroke-width="0.15">4</text>
<text x="23.38" y="239.00" font-size="16.2" textLength="36.84" lengthAdjust="spacingAndGlyphs" stroke="#000" stroke-width="0.3">1,2x10</text>
<text x="60.98" y="231.00" font-size="10.4" textLength="5.01" lengthAdjust="spacingAndGlyphs" stroke="#000" stroke-width="0.15">4</text>
<text x="23.38" y="267.60" font-size="16.2" textLength="36.84" lengthAdjust="spacingAndGlyphs" stroke="#000" stroke-width="0.3">1,1x10</text>
<text x="60.98" y="259.60" font-size="10.4" textLength="5.01" lengthAdjust="spacingAndGlyphs" stroke="#000" stroke-width="0.15">4</text>
<text x="23.38" y="295.40" font-size="16.2" textLength="36.84" lengthAdjust="spacingAndGlyphs" stroke="#000" stroke-width="0.3">1,1x10</text>
<text x="60.98" y="287.40" font-size="10.4" textLength="5.01" lengthAdjust="spacingAndGlyphs" stroke="#000" stroke-width="0.15">4</text>
<text x="23.38" y="323.70" font-size="16.2" textLength="36.84" lengthAdjust="spacingAndGlyphs" stroke="#000" stroke-width="0.3">1,0x10</text>
<text x="60.98" y="315.70" font-size="10.4" textLength="5.01" lengthAdjust="spacingAndGlyphs" stroke="#000" stroke-width="0.15">4</text>
</svg></body></html>
